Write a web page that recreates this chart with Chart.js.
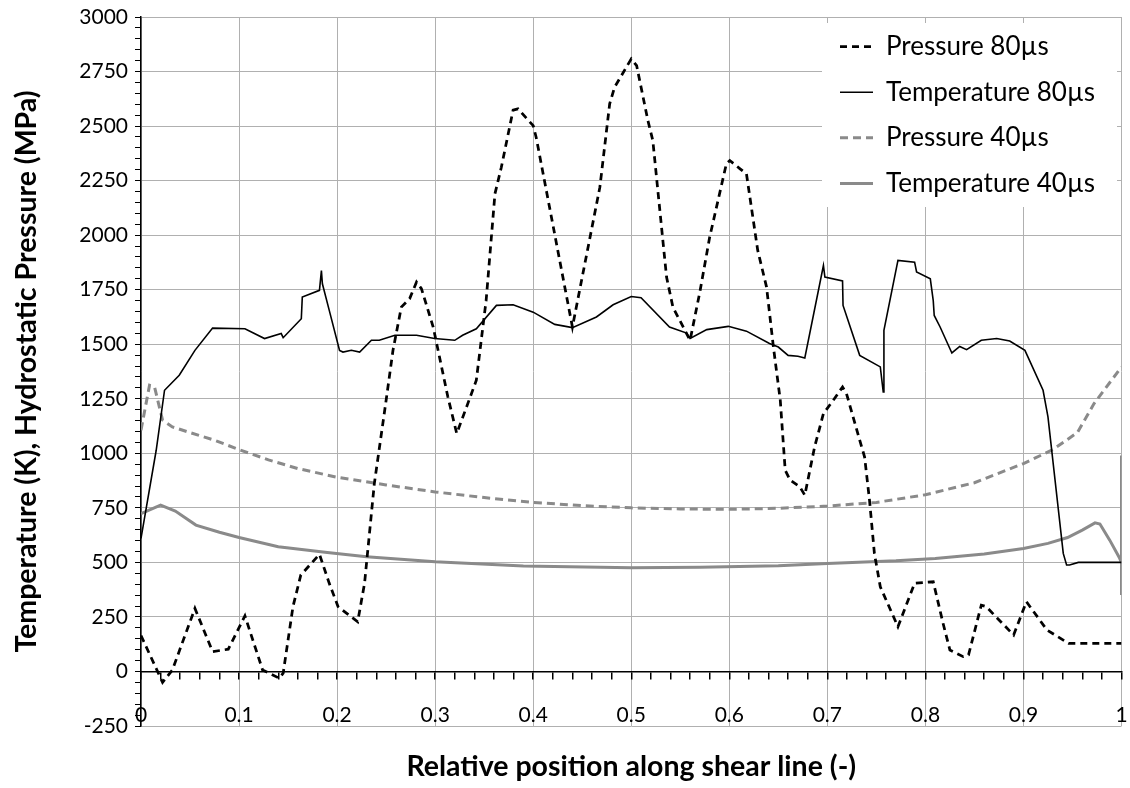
<!DOCTYPE html>
<html>
<head>
<meta charset="utf-8">
<script src="https://cdn.jsdelivr.net/npm/chart.js@4.4.1/dist/chart.umd.min.js"></script>
<style>
html,body{margin:0;padding:0;background:#fff}
canvas{display:block}
</style>
</head>
<body>
<canvas id="shear" width="1130" height="788"></canvas>
<script>
// [relative position, value]
const pressure80 = [[0,165],[0.022,-50],[0.032,7],[0.055,289],[0.073,91],[0.089,102],[0.106,255],[0.124,7],[0.141,-31],[0.145,-8],
  [0.155,297],[0.163,442],[0.182,537],[0.192,404],[0.201,297],[0.221,228],[0.228,404],[0.238,862],[0.25,1243],[0.257,1472],
  [0.2655,1670],[0.274,1709],[0.281,1785],[0.286,1755],[0.298,1579],[0.313,1258],[0.322,1091],[0.332,1212],[0.342,1335],[0.352,1701],
  [0.361,2190],[0.3675,2311],[0.3795,2573],[0.3845,2579],[0.4,2502],[0.403,2449],[0.44,1579],[0.468,2220],[0.478,2602],[0.483,2678],
  [0.5,2808],[0.5055,2777],[0.517,2525],[0.522,2434],[0.536,1808],[0.5425,1670],[0.56,1518],[0.57,1740],[0.58,1991],[0.597,2327],
  [0.6005,2342],[0.611,2304],[0.6175,2281],[0.629,1930],[0.638,1762],[0.645,1487],[0.652,1243],[0.657,923],[0.662,877],[0.672,846],
  [0.677,808],[0.687,1029],[0.696,1182],[0.706,1243],[0.7155,1304],[0.7195,1274],[0.733,1060],[0.738,983],[0.743,785],[0.748,541],
  [0.754,388],[0.772,205],[0.789,404],[0.808,411],[0.818,221],[0.825,98],[0.8385,68],[0.844,76],[0.857,304],[0.862,297],
  [0.89,167],[0.903,320],[0.924,190],[0.946,129],[1,129]];

const temperature80 = [[0,610],[0.0155,1014],[0.024,1289],[0.039,1358],[0.055,1472],[0.073,1574],[0.106,1571],[0.126,1526],[0.143,1549],[0.145,1530],
  [0.1635,1617],[0.1645,1716],[0.182,1747],[0.184,1838],[0.185,1777],[0.192,1655],[0.2025,1472],[0.206,1464],[0.2145,1472],[0.223,1464],
  [0.235,1518],[0.243,1518],[0.259,1541],[0.281,1541],[0.2995,1526],[0.32,1518],[0.328,1541],[0.342,1571],[0.3625,1678],[0.3795,1681],
  [0.4,1647],[0.422,1591],[0.44,1576],[0.4645,1625],[0.4815,1681],[0.5,1719],[0.51,1713],[0.539,1579],[0.5565,1551],[0.56,1526],
  [0.577,1567],[0.599,1582],[0.6175,1560],[0.641,1503],[0.65,1487],[0.66,1449],[0.67,1445],[0.677,1437],[0.696,1861],[0.6975,1808],
  [0.7155,1790],[0.716,1678],[0.733,1449],[0.754,1396],[0.757,1281],[0.7577,1564],[0.772,1884],[0.789,1876],[0.791,1831],[0.805,1800],
  [0.808,1700],[0.809,1632],[0.815,1579],[0.827,1460],[0.835,1490],[0.842,1475],[0.857,1518],[0.8727,1526],[0.886,1515],[0.9015,1472],
  [0.92,1289],[0.925,1167],[0.9406,541],[0.944,488],[0.947,488],[0.956,500],[1,500]];

const pressure40 = [[0,1106],[0.0087,1312],[0.0138,1304],[0.022,1152],[0.032,1121],[0.05,1095],[0.075,1060],[0.1,1017],[0.13,970],[0.16,930],
  [0.2,890],[0.25,855],[0.3,823],[0.35,797],[0.4,775],[0.45,760],[0.5,750],[0.55,745],[0.6,743],[0.65,748],
  [0.7,758],[0.75,775],[0.8,810],[0.85,865],[0.9,953],[0.93,1017],[0.955,1095],[0.972,1228],[1,1396]];

const temperature40 = [[0,724],[0.02,762],[0.035,735],[0.056,671],[0.08,638],[0.1,614],[0.14,572],[0.19,545],[0.23,526],[0.3,503],
  [0.39,483],[0.5,475],[0.57,478],[0.65,485],[0.7,495],[0.77,507],[0.81,518],[0.86,538],[0.9,564],[0.925,587],
  [0.945,614],[0.96,648],[0.973,681],[0.978,676],[0.988,602],[0.998,520],[1,500],[1,990],[1,350]];

const seriesNames = ['Pressure 80µs','Temperature 80µs','Pressure 40µs','Temperature 40µs'];
const xMajor = 0.1, xMinor = 0.02;
const yMajor = 250, yMinor = 50;

Chart.defaults.font.family = 'Lato';
Chart.defaults.color = '#000';

const toPts = arr => arr.map(([x,y]) => ({x, y}));
const grey = '#8a8a8a', gridGrey = '#b0b0b0';

// white box behind the legend, then legend drawn again on top
const legendSpot = {
  id:'legendSpot',
  afterLayout(chart){
    const lg = chart.legend;
    lg.left = 820.4; lg.top = 14; lg.right = 1118; lg.bottom = 320;
    lg.width = lg.right - lg.left; lg.height = lg.bottom - lg.top;
  },
  afterDatasetsDraw(chart){
    const ctx = chart.ctx;
    ctx.save(); ctx.fillStyle = '#fff'; ctx.fillRect(822,23,295,184); ctx.restore();
    chart.legend.draw();
  }
};

new Chart(document.getElementById('shear'), {
  type:'scatter',
  data:{datasets:[
    {label:seriesNames[0], data:toPts(pressure80), borderColor:'#000', borderWidth:2.75, borderDash:[7,5], showLine:true, pointRadius:0},
    {label:seriesNames[1], data:toPts(temperature80), borderColor:'#000', borderWidth:1.6, showLine:true, pointRadius:0},
    {label:seriesNames[2], data:toPts(pressure40), borderColor:grey, borderWidth:3, borderDash:[8,5], showLine:true, pointRadius:0},
    {label:seriesNames[3], data:toPts(temperature40), borderColor:grey, borderWidth:3, showLine:true, pointRadius:0}
  ]},
  options:{
    responsive:false, animation:false,
    layout:{padding:{top:17, right:8.5, left:0, bottom:0}},
    plugins:{
      tooltip:{enabled:false},
      legend:{position:'chartArea', align:'start',
        labels:{usePointStyle:true, pointStyle:'line', pointStyleWidth:33, boxHeight:10, padding:19.6, font:{size:26}, color:'#000',
          generateLabels:chart => chart.data.datasets.map((ds,i) => ({
            text:ds.label, strokeStyle:ds.borderColor, fillStyle:ds.borderColor,
            lineWidth:ds.borderWidth, lineDash:ds.borderDash || [], pointStyle:'line',
            datasetIndex:i, hidden:false}))}}
    },
    scales:{
      x:{type:'linear', position:'bottom', min:0, max:1,
        ticks:{display:false, stepSize:xMajor},
        grid:{color:gridGrey, drawTicks:false},
        border:{display:false},
        title:{display:true, text:'Relative position along shear line (-)', font:{size:28.5, weight:'bold'}, padding:{top:0,bottom:4}},
        afterFit(s){ s.height = 62; }},
      xAxis0:{type:'linear', axis:'x', position:{y:0}, min:0, max:1,
        ticks:{stepSize:xMinor, autoSkip:false, maxRotation:0, maxTicksLimit:1000, padding:24, font:{size:21},
          callback:v => Math.abs(v/xMajor - Math.round(v/xMajor)) < 1e-6 ? String(Math.round(v*10)/10) : ''},
        grid:{drawOnChartArea:false, color:'#000', tickLength:7, lineWidth:1.5},
        border:{display:true, color:'#000', width:1.5},
        afterFit(s){ s.height = 0; s.paddingLeft = 0; s.paddingRight = 0; }},
      y:{type:'linear', position:'left', min:-250, max:3000,
        ticks:{stepSize:yMinor, autoSkip:false, maxTicksLimit:1000, padding:7, font:{size:21},
          callback:v => v % yMajor === 0 ? String(v) : ''},
        grid:{color:c => c.tick && c.tick.value % yMajor === 0 ? gridGrey : 'rgba(0,0,0,0)', tickColor:'#000', tickLength:6, lineWidth:1},
        border:{display:true, color:'#000', width:1.5},
        title:{display:true, text:'Temperature (K), Hydrostatic Pressure (MPa)', font:{size:28.5, weight:'bold'}, padding:{top:10,bottom:0}},
        afterFit(s){ s.width = 141; s.paddingTop = 0; s.paddingBottom = 0; }}
    }
  },
  plugins:[legendSpot]
});
</script>
</body>
</html>
